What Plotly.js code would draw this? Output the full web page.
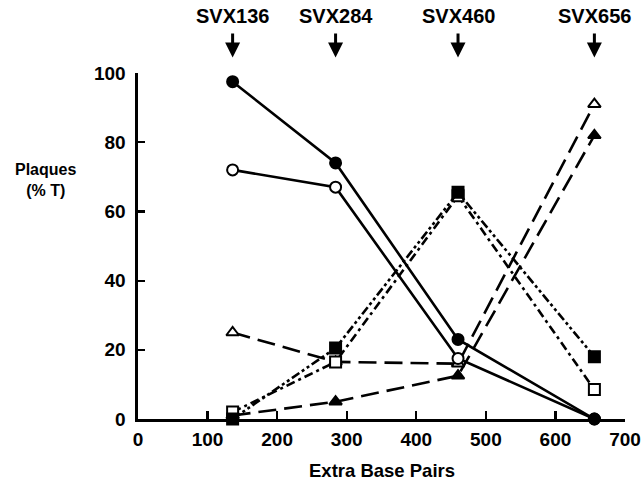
<!DOCTYPE html>
<html>
<head>
<meta charset="utf-8">
<script src="https://cdn.plot.ly/plotly-3.0.1.min.js"></script>
<style>html,body{margin:0;padding:0;background:#fff;}#chart{width:644px;height:491px;}</style>
</head>
<body>
<div id="chart"></div>
<script>
// Data
const basePairs = [136, 284, 460, 656];
const filledCircle = [97.5, 74, 23, 0];
const openCircle = [72, 67, 17.5, 0];
const openTriangle = [25, 16.5, 16, 91];
const filledTriangle = [1, 5, 12.5, 82];
const filledSquare = [0, 20.5, 65.5, 18];
const openSquare = [2, 16.5, 64.5, 8.5];
const constructNames = ['SVX136', 'SVX284', 'SVX460', 'SVX656'];
const xTicks = [0, 100, 200, 300, 400, 500, 600, 700];
const yTicks = [0, 20, 40, 60, 80, 100];

const FONT = 'Liberation Sans, Arial, sans-serif';

function series(y, symbol, open, dash) {
  return {
    x: basePairs, y: y, type: 'scatter', mode: 'lines+markers',
    line: {color: '#000', width: 2.6, dash: dash},
    marker: {symbol: symbol, size: 11, color: open ? '#fff' : '#000',
             line: {color: '#000', width: 2}},
    cliponaxis: false, showlegend: false, hoverinfo: 'skip'
  };
}

const data = [
  series(filledTriangle, 'triangle-up', false, '18px,8px'),
  series(openTriangle, 'triangle-up', true, '18px,8px'),
  series(openSquare, 'square', true, '9px,4px,3px,4px'),
  series(filledSquare, 'square', false, '9px,3px,3px,3px,3px,3px'),
  series(openCircle, 'circle', true, 'solid'),
  series(filledCircle, 'circle', false, 'solid')
];

const annotations = [];
constructNames.forEach((name, i) => {
  annotations.push({
    xref: 'x', yref: 'paper', x: basePairs[i], y: 1.165,
    text: name, showarrow: false, xanchor: 'center', yanchor: 'middle',
    font: {family: FONT, size: 20, weight: 'bold', color: '#000'}
  });
  annotations.push({
    xref: 'x', yref: 'paper', x: basePairs[i], y: 1.045,
    text: ' ', showarrow: true, ax: 0, ay: -26,
    arrowhead: 2, arrowsize: 1, arrowwidth: 3, arrowcolor: '#000',
    font: {size: 1}
  });
});
annotations.push({
  xref: 'paper', yref: 'paper', x: -0.19, y: 0.69, text: 'Plaques<br>(% T)',
  showarrow: false, align: 'center', xanchor: 'center', yanchor: 'middle',
  font: {family: FONT, size: 16, weight: 'bold', color: '#000'}
});
annotations.push({
  xref: 'paper', yref: 'paper', x: 0.5, y: -0.15, text: 'Extra Base Pairs',
  showarrow: false, xanchor: 'center', yanchor: 'middle',
  font: {family: FONT, size: 18.5, weight: 'bold', color: '#000'}
});

const layout = {
  width: 644, height: 491,
  margin: {l: 138, r: 19, t: 73, b: 72},
  paper_bgcolor: '#fff', plot_bgcolor: '#fff',
  showlegend: false,
  xaxis: {
    range: [0, 700], tickvals: xTicks, ticktext: xTicks.map(String),
    ticks: 'inside', ticklen: 8, tickwidth: 2.2, tickcolor: '#000',
    showline: true, linewidth: 2.6, linecolor: '#000',
    showgrid: false, zeroline: false, ticklabelstandoff: 2,
    tickfont: {family: FONT, size: 19, weight: 'bold', color: '#000'}
  },
  yaxis: {
    range: [0, 100], tickvals: yTicks, ticktext: yTicks.map(String),
    ticks: 'inside', ticklen: 7, tickwidth: 2.2, tickcolor: '#000',
    showline: true, linewidth: 2.6, linecolor: '#000',
    showgrid: false, zeroline: false, ticklabelstandoff: 6,
    tickfont: {family: FONT, size: 19, weight: 'bold', color: '#000'}
  },
  annotations: annotations
};

Plotly.newPlot('chart', data, layout, {staticPlot: true, displayModeBar: false});
</script>
</body>
</html>
